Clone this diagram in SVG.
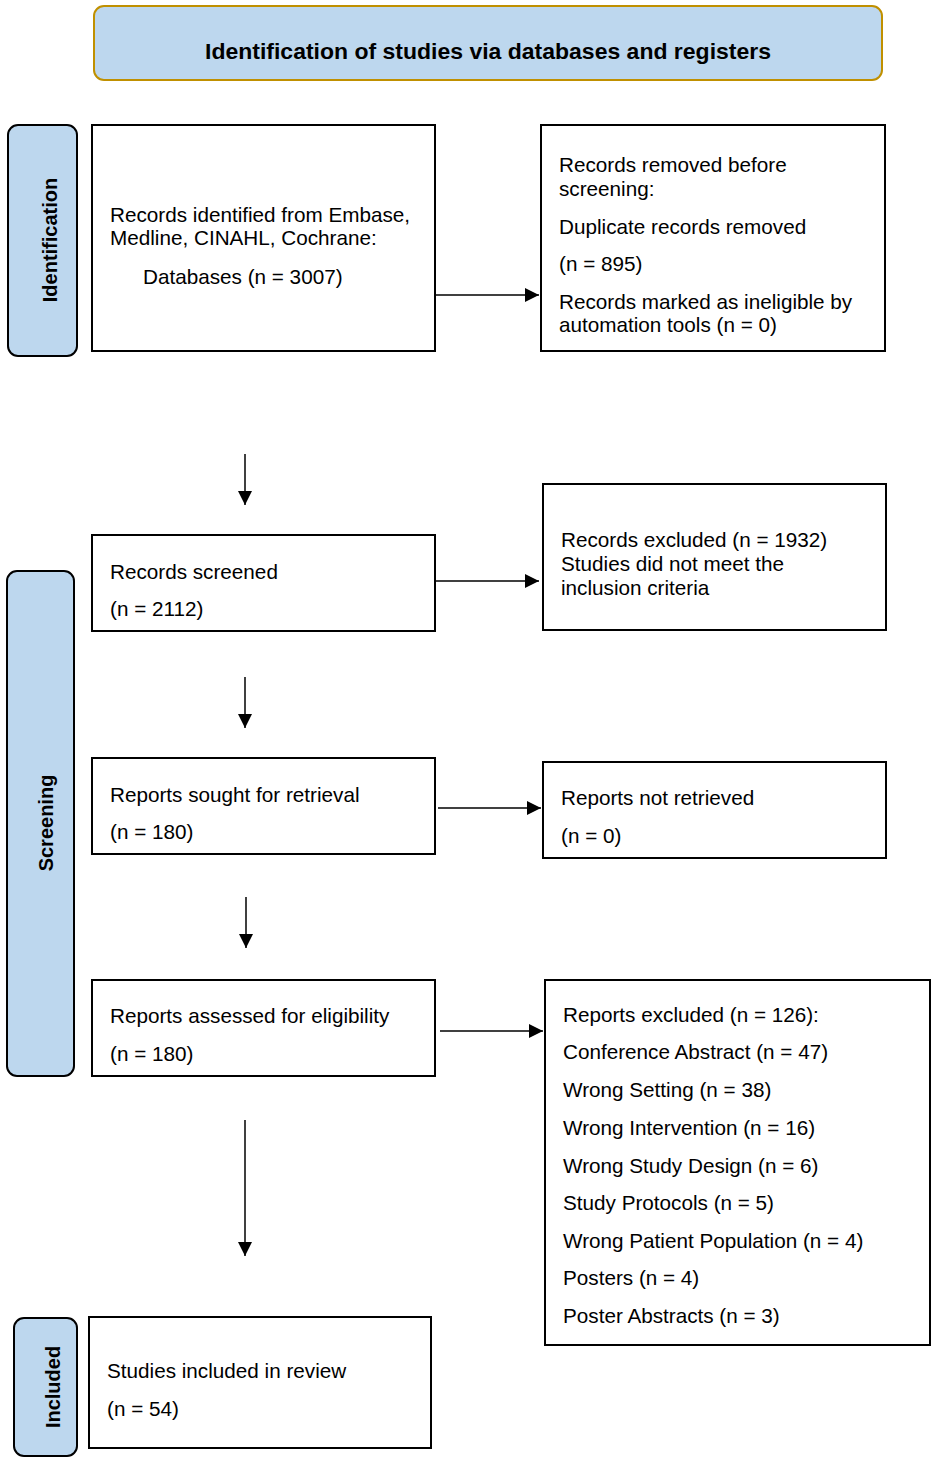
<svg xmlns="http://www.w3.org/2000/svg" width="935" height="1462" viewBox="0 0 935 1462">
<defs>
<marker id="ah" markerUnits="userSpaceOnUse" markerWidth="14" markerHeight="14" refX="14" refY="7" orient="auto">
<path d="M0,0 L14,7 L0,14 Z" fill="#000"/>
</marker>
<style>
.box{fill:#fff;stroke:#000;stroke-width:2}
.side{fill:#bdd7ee;stroke:#000;stroke-width:2}
.t{font-family:"Liberation Sans",Arial,sans-serif;font-size:20.7px;fill:#000}
.st{font-family:"Liberation Sans",Arial,sans-serif;font-size:20px;font-weight:bold;fill:#000}
.c{stroke:#000;stroke-width:1.5;fill:none;marker-end:url(#ah)}
</style>
</defs>
<rect width="935" height="1462" fill="#fff"/>
<g id="title">
<rect x="94" y="6" width="788" height="74" rx="10" fill="#bdd7ee" stroke="#c09000" stroke-width="2"/>
<text class="st" x="488" y="59" text-anchor="middle" style="font-size:22px" textLength="566" lengthAdjust="spacingAndGlyphs">Identification of studies via databases and registers</text>
</g>
<g id="side-identification">
<rect class="side" x="8" y="125" width="69" height="231" rx="10"/>
<text class="st" transform="translate(57,240) rotate(-90)" text-anchor="middle">Identification</text>
</g>
<g id="side-screening">
<rect class="side" x="7" y="571" width="67" height="505" rx="10"/>
<text class="st" transform="translate(53,823) rotate(-90)" text-anchor="middle">Screening</text>
</g>
<g id="side-included">
<rect class="side" x="14" y="1318" width="63" height="138" rx="10"/>
<text class="st" transform="translate(60,1387) rotate(-90)" text-anchor="middle">Included</text>
</g>
<g id="records-identified">
<rect class="box" x="92" y="125" width="343" height="226"/>
<text class="t" x="110" y="222">Records identified from Embase,</text>
<text class="t" x="110" y="245">Medline, CINAHL, Cochrane:</text>
<text class="t" x="143" y="284">Databases (n = 3007)</text>
</g>
<g id="records-removed">
<rect class="box" x="541" y="125" width="344" height="226"/>
<text class="t" x="559" y="172">Records removed before</text>
<text class="t" x="559" y="196">screening:</text>
<text class="t" x="559" y="234">Duplicate records removed</text>
<text class="t" x="559" y="271">(n = 895)</text>
<text class="t" x="559" y="309">Records marked as ineligible by</text>
<text class="t" x="559" y="332">automation tools (n = 0)</text>
</g>
<g id="records-screened">
<rect class="box" x="92" y="535" width="343" height="96"/>
<text class="t" x="110" y="579">Records screened</text>
<text class="t" x="110" y="616">(n = 2112)</text>
</g>
<g id="records-excluded">
<rect class="box" x="543" y="484" width="343" height="146"/>
<text class="t" x="561" y="547">Records excluded (n = 1932)</text>
<text class="t" x="561" y="571">Studies did not meet the</text>
<text class="t" x="561" y="595">inclusion criteria</text>
</g>
<g id="reports-sought">
<rect class="box" x="92" y="758" width="343" height="96"/>
<text class="t" x="110" y="802">Reports sought for retrieval</text>
<text class="t" x="110" y="839">(n = 180)</text>
</g>
<g id="reports-not-retrieved">
<rect class="box" x="543" y="762" width="343" height="96"/>
<text class="t" x="561" y="805">Reports not retrieved</text>
<text class="t" x="561" y="843">(n = 0)</text>
</g>
<g id="reports-assessed">
<rect class="box" x="92" y="980" width="343" height="96"/>
<text class="t" x="110" y="1023">Reports assessed for eligibility</text>
<text class="t" x="110" y="1061">(n = 180)</text>
</g>
<g id="reports-excluded">
<rect class="box" x="545" y="980" width="385" height="365"/>
<text class="t" x="563" y="1022">Reports excluded (n = 126):</text>
<text class="t" x="563" y="1059">Conference Abstract (n = 47)</text>
<text class="t" x="563" y="1097">Wrong Setting (n = 38)</text>
<text class="t" x="563" y="1135">Wrong Intervention (n = 16)</text>
<text class="t" x="563" y="1173">Wrong Study Design (n = 6)</text>
<text class="t" x="563" y="1210">Study Protocols (n = 5)</text>
<text class="t" x="563" y="1248">Wrong Patient Population (n = 4)</text>
<text class="t" x="563" y="1285">Posters (n = 4)</text>
<text class="t" x="563" y="1323">Poster Abstracts (n = 3)</text>
</g>
<g id="studies-included">
<rect class="box" x="89" y="1317" width="342" height="131"/>
<text class="t" x="107" y="1378">Studies included in review</text>
<text class="t" x="107" y="1416">(n = 54)</text>
</g>
<g id="connectors">
<line class="c" x1="436" y1="295" x2="539" y2="295"/>
<line class="c" x1="245" y1="454" x2="245" y2="505"/>
<line class="c" x1="436" y1="581" x2="539" y2="581"/>
<line class="c" x1="245" y1="677" x2="245" y2="728"/>
<line class="c" x1="438" y1="808" x2="541" y2="808"/>
<line class="c" x1="246" y1="897" x2="246" y2="948"/>
<line class="c" x1="440" y1="1031" x2="543" y2="1031"/>
<line class="c" x1="245" y1="1120" x2="245" y2="1256"/>
</g>
</svg>
